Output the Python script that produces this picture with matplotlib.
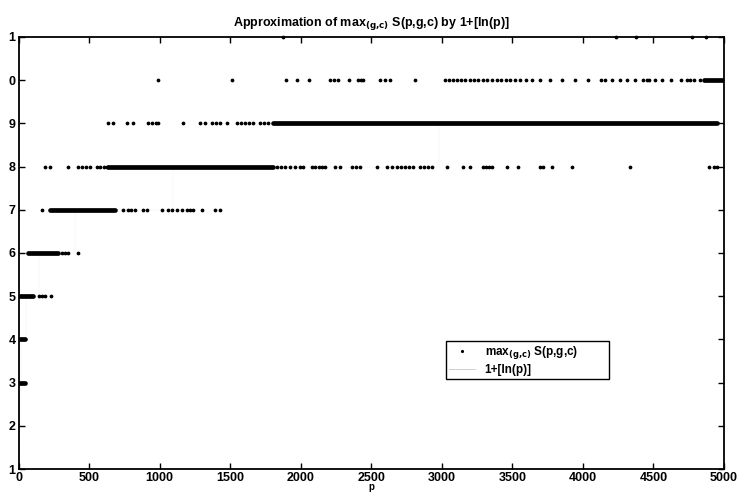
import matplotlib
matplotlib.use("Agg")
import matplotlib.pyplot as plt
from matplotlib.lines import Line2D

plt.rcParams['font.family'] = ['Liberation Sans', 'DejaVu Sans']

# ---- data ----
# dense runs of points: level, first p, last p
band_level = [3, 4, 5, 6, 7, 8, 9, 10]
band_start = [5, 10, 10, 67, 223, 634, 1802, 4862]
band_end = [45, 46, 103, 280, 684, 1802, 4950, 5000]

# isolated points per level (p values)
dots_5 = [145, 166, 188, 230]
dots_6 = [308, 329, 350, 421]
dots_7 = [166, 740, 775, 796, 825, 881, 910, 1016, 1058, 1087, 1122, 1158,
          1193, 1214, 1235, 1299, 1391, 1427]
dots_8 = [188, 223, 350, 421, 450, 478, 506, 556, 577, 605, 627,
          1831, 1859, 1887, 1922, 1958, 1993, 2015, 2079, 2100, 2128, 2150,
          2171, 2242, 2277, 2362, 2390, 2419, 2539, 2610, 2645, 2681, 2709,
          2737, 2766, 2794, 2844, 2872, 2900, 2929, 3035, 3148, 3198, 3290,
          3311, 3333, 3354, 3459, 3537, 3693, 3714, 3778, 3920, 4331, 4897,
          4926, 4954]
dots_9 = [634, 669, 768, 811, 917, 945, 974, 988, 1165, 1285, 1321, 1370,
          1399, 1427, 1477, 1548, 1576, 1604, 1632, 1661, 1710, 1739, 1767]
dots_10 = [988, 1512, 1894, 1972, 2057, 2206, 2235, 2263, 2341, 2404, 2426,
           2440, 2560, 2596, 2631, 2808, 3020, 3049, 3077, 3105, 3134, 3162,
           3198, 3226, 3254, 3290, 3318, 3353, 3389, 3417, 3452, 3481, 3516,
           3552, 3594, 3637, 3693, 3764, 3849, 3941, 4033, 4132, 4154, 4203,
           4260, 4310, 4366, 4423, 4451, 4472, 4508, 4558, 4628, 4699, 4735,
           4756, 4791, 4827]
dots_11 = [1873, 4238, 4380, 4777, 4876]

# step curve 1+[ln(p)]
step_p = [2, 7.39, 20.09, 54.6, 148.4, 403.4, 1096.6, 2981.0, 5000]
step_val = [2, 3, 4, 5, 6, 7, 8, 9, 9]

xticks = [0, 500, 1000, 1500, 2000, 2500, 3000, 3500, 4000, 4500, 5000]
yticks = [1, 2, 3, 4, 5, 6, 7, 8, 9, 10, 11]
ytick_labels = ['1', '2', '3', '4', '5', '6', '7', '8', '9', '0', '1']

# ---- figure ----
fig = plt.figure(figsize=(7.41, 4.99), dpi=100)
ax = fig.add_axes([0.025, 0.060, 0.952, 0.866])

ax.step(step_p, step_val, where='post', color='#ececec', lw=0.3, zorder=1)

for lv, s, e in zip(band_level, band_start, band_end):
    ax.hlines(lv, s, e, colors='black', lw=3.4, capstyle='round', zorder=2)

for lv, d in [(5, dots_5), (6, dots_6), (7, dots_7), (8, dots_8),
              (9, dots_9), (10, dots_10), (11, dots_11)]:
    ax.plot(d, [lv] * len(d), ls='none', marker='o', ms=1.7,
            color='black', mec='black', zorder=3, clip_on=False)

ax.set_xlim(0, 5000)
ax.set_ylim(1, 11)
ax.set_xticks(xticks)
ax.set_xticklabels([str(t) for t in xticks], fontweight='bold', fontsize=9)
ax.set_yticks(yticks)
ax.set_yticklabels(ytick_labels, fontweight='bold', fontsize=9)
ax.tick_params(direction='in', top=True, right=True, length=4, width=1,
               pad=2)
for sp in ax.spines.values():
    sp.set_linewidth(1.3)

ax.set_title('Approximation of max$_{\\mathbf{(g{,}c)}}$ S(p,g,c) by 1+[ln(p)]',
             fontweight='bold', fontsize=9, pad=8)
ax.set_xlabel('p', fontweight='bold', fontsize=7, labelpad=-1)

handles = [Line2D([], [], ls='none', marker='.', ms=2.5, color='black'),
           Line2D([], [], color='#bbbbbb', lw=0.5)]
leg = ax.legend(handles, ['max$_{\\mathbf{(g{,}c)}}$ S(p,g,c)', '1+[ln(p)]'],
                loc='lower left', bbox_to_anchor=(0.597, 0.194, 0.248, 0.111),
                mode='expand', frameon=True, fancybox=False, framealpha=1,
                edgecolor='black', borderpad=0.3, handlelength=2.2,
                prop={'weight': 'bold', 'size': 8.5}, labelspacing=0.2)
leg.get_frame().set_linewidth(1.0)

fig.savefig('out.png', dpi=100)
